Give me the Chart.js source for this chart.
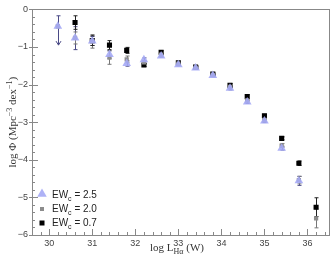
<!DOCTYPE html>
<html>
<head>
<meta charset="utf-8">
<script src="https://cdn.jsdelivr.net/npm/chart.js@4.4.0/dist/chart.umd.min.js"></script>
<style>
  html, body { margin: 0; padding: 0; background: #fff; }
  #wrap { width: 334px; height: 261px; position: relative; }
</style>
</head>
<body>
<div id="wrap"><canvas id="chart"></canvas></div>
<script>
const logL = [30.2, 30.6, 31.0, 31.4, 31.8, 32.2, 32.6, 33.0, 33.4, 33.8, 34.2, 34.6, 35.0, 35.4, 35.8, 36.2];

// EWc = 2.5 (triangles)
const phi25 = [-0.45, -0.76, -0.84, -1.20, -1.44, -1.34, -1.24, -1.47, -1.56, -1.76, -2.10, -2.46, -2.97, -3.69, -4.56, null];
const errHi25 = [0.28, 0.30, 0.12, 0.10, 0.07, 0.05, 0.03, 0.03, 0.03, 0.03, 0.04, 0.04, 0.04, 0.05, 0.12, 0];
const errLo25 = [0.50, 0.31, 0.12, 0.10, 0.07, 0.05, 0.03, 0.03, 0.03, 0.03, 0.04, 0.04, 0.04, 0.05, 0.12, 0];
const upperLimit25 = [true, false, false, false, false, false, false, false, false, false, false, false, false, false, false, false];

// EWc = 2.0 (grey squares)
const phi20 = [-0.45, -0.76, -0.85, -1.28, -1.33, -1.41, -1.20, -1.44, -1.55, -1.74, -2.06, -2.42, -2.94, -3.62, -4.54, -5.56];
const err20 = [0.0, 0.16, 0.18, 0.18, 0.09, 0.05, 0.04, 0.03, 0.03, 0.03, 0.04, 0.04, 0.04, 0.05, 0.10, 0.25];

// EWc = 0.7 (black squares)
const phi07 = [null, -0.35, -0.83, -0.95, -1.09, -1.48, -1.14, -1.42, -1.53, -1.72, -2.02, -2.32, -2.83, -3.43, -4.09, -5.26];
const err07 = [0, 0.18, 0.13, 0.12, 0.08, 0.04, 0.04, 0.03, 0.03, 0.03, 0.05, 0.05, 0.04, 0.04, 0.06, 0.25];

const seriesLabels = ['2.5', '2.0', '0.7'];
const xTicks = [30, 31, 32, 33, 34, 35, 36];
const yTicks = [-6, -5, -4, -3, -2, -1, 0];

const pts = (ys) => logL.map((x, i) => ({ x: x, y: ys[i] })).filter(p => p.y !== null);

const errorSets = [
  { ys: phi25, hi: errHi25, lo: errLo25, lim: upperLimit25, color: '#4a4a86' },
  { ys: phi20, hi: err20, lo: err20, lim: null, color: '#777' },
  { ys: phi07, hi: err07, lo: err07, lim: null, color: '#222' }
];

const sansFont = '"Liberation Sans", Arial, sans-serif';
const serifFont = '"Liberation Serif", "Times New Roman", serif';

const frame = {
  id: 'frame',
  beforeDatasetsDraw(chart) {
    const { ctx, scales: { x, y } } = chart;
    ctx.save();
    // error bars
    ctx.lineWidth = 1;
    errorSets.forEach(s => {
      ctx.strokeStyle = s.color;
      logL.forEach((lx, i) => {
        const v = s.ys[i];
        if (v === null) return;
        const px = Math.round(x.getPixelForValue(lx)) + 0.5;
        const top = y.getPixelForValue(v + s.hi[i]);
        const bot = y.getPixelForValue(v - s.lo[i]);
        if (top === bot) return;
        ctx.beginPath();
        ctx.moveTo(px, top); ctx.lineTo(px, bot);
        ctx.moveTo(px - 2, top); ctx.lineTo(px + 2, top);
        if (s.lim && s.lim[i]) {
          ctx.moveTo(px - 2.5, bot - 4); ctx.lineTo(px, bot); ctx.lineTo(px + 2.5, bot - 4);
        } else {
          ctx.moveTo(px - 2, bot); ctx.lineTo(px + 2, bot);
        }
        ctx.stroke();
      });
    });
    ctx.restore();
  },
  afterDraw(chart) {
    const { ctx, chartArea: a, scales: { x, y } } = chart;
    ctx.save();
    ctx.strokeStyle = '#888';
    ctx.lineWidth = 1;
    ctx.strokeRect(Math.round(a.left) + 0.5, Math.round(a.top) + 0.5, Math.round(a.right - a.left), Math.round(a.bottom - a.top));
    ctx.beginPath();
    // x ticks
    for (let k = 0; k <= 35; k++) {
      const v = 29.6 + k * 0.2;
      if (v > 36.5 + 1e-6) break;
      const major = Math.abs(v - Math.round(v)) < 1e-6;
      const px = Math.round(x.getPixelForValue(v)) + 0.5;
      const len = major ? 6 : 3;
      ctx.moveTo(px, a.bottom); ctx.lineTo(px, a.bottom - len);
    }
    // y ticks
    for (let k = 0; k <= 30; k++) {
      const v = -6 + k * 0.2;
      const major = Math.abs(v - Math.round(v)) < 1e-6;
      const py = Math.round(y.getPixelForValue(v)) + 0.5;
      if (major) { ctx.moveTo(a.left - 3, py); ctx.lineTo(a.left + 6, py); }
      else { ctx.moveTo(a.left, py); ctx.lineTo(a.left + 3, py); }
    }
    ctx.stroke();

    // axis titles
    ctx.fillStyle = '#333';
    ctx.textBaseline = 'alphabetic';
    const cx = 177;
    const parts = [
      { t: 'log L', f: '11px ' + serifFont, dy: 0 },
      { t: 'H\u03b1', f: '8px ' + serifFont, dy: 3 },
      { t: ' (W)', f: '11px ' + serifFont, dy: 0 }
    ];
    let w = 0;
    parts.forEach(p => { ctx.font = p.f; w += ctx.measureText(p.t).width; });
    let sx = cx - w / 2;
    const by = 251;
    parts.forEach(p => { ctx.font = p.f; ctx.fillText(p.t, sx, by + p.dy); sx += ctx.measureText(p.t).width; });

    ctx.save();
    ctx.translate(8, (a.top + a.bottom) / 2);
    ctx.rotate(-Math.PI / 2);
    const yparts = [
      { t: 'log \u03a6 (Mpc', f: '11px ' + serifFont, dy: 0 },
      { t: '\u22123', f: '8px ' + serifFont, dy: -4 },
      { t: ' dex', f: '11px ' + serifFont, dy: 0 },
      { t: '\u22121', f: '8px ' + serifFont, dy: -4 },
      { t: ')', f: '11px ' + serifFont, dy: 0 }
    ];
    w = 0;
    yparts.forEach(p => { ctx.font = p.f; w += ctx.measureText(p.t).width; });
    sx = -w / 2;
    yparts.forEach(p => { ctx.font = p.f; ctx.fillText(p.t, sx, 8 + p.dy); sx += ctx.measureText(p.t).width; });
    ctx.restore();

    // legend
    const rows = [194, 208, 222];
    const ds = chart.data.datasets;
    rows.forEach((ry, i) => {
      const d = ds[i];
      ctx.fillStyle = d.backgroundColor;
      const mx = 42;
      if (d.pointStyle === 'triangle') {
        const r = 5.5;
        ctx.beginPath();
        ctx.moveTo(mx - r * 0.866, ry + r / 2);
        ctx.lineTo(mx + r * 0.866, ry + r / 2);
        ctx.lineTo(mx, ry - r);
        ctx.closePath();
        ctx.fill();
      } else {
        const s = i === 1 ? 4 : 5;
        ctx.fillRect(mx - s / 2, ry - s / 2 + 1, s, s);
      }
      ctx.fillStyle = '#222';
      ctx.font = '10px ' + sansFont;
      let tx = 52;
      ctx.fillText('EW', tx, ry + 4);
      tx += ctx.measureText('EW').width;
      ctx.font = '7px ' + sansFont;
      ctx.fillText('c', tx, ry + 7);
      tx += ctx.measureText('c').width;
      ctx.font = '10px ' + sansFont;
      ctx.fillText(' = ' + seriesLabels[i], tx, ry + 4);
    });
    ctx.restore();
  }
};

new Chart(document.getElementById('chart'), {
  type: 'scatter',
  data: {
    datasets: [
      { label: 'EWc = 2.5', data: pts(phi25), pointStyle: 'triangle', radius: 5, backgroundColor: 'rgba(165,170,245,0.9)', borderWidth: 0 },
      { label: 'EWc = 2.0', data: pts(phi20), pointStyle: 'rect', radius: 3, backgroundColor: '#8c8c8c', borderWidth: 0 },
      { label: 'EWc = 0.7', data: pts(phi07), pointStyle: 'rect', radius: 3.6, backgroundColor: '#000', borderWidth: 0 }
    ]
  },
  options: {
    responsive: true,
    maintainAspectRatio: false,
    animation: false,
    layout: { padding: { top: 6, right: 4, left: 0, bottom: 0 } },
    plugins: { legend: { display: false }, tooltip: { enabled: false } },
    scales: {
      x: {
        type: 'linear', min: 29.6, max: 36.5,
        afterBuildTicks: s => { s.ticks = xTicks.map(v => ({ value: v })); },
        afterFit: s => { s.height = 26; },
        grid: { display: false, drawTicks: false },
        border: { display: false },
        ticks: { color: '#444', font: { family: sansFont, size: 9 }, padding: 3, maxRotation: 0 }
      },
      y: {
        type: 'linear', min: -6, max: 0,
        afterBuildTicks: s => { s.ticks = yTicks.map(v => ({ value: v })); },
        afterFit: s => { s.width = 32; },
        grid: { display: false, drawTicks: false },
        border: { display: false },
        ticks: { color: '#444', font: { family: sansFont, size: 9 }, padding: 4,
          callback: v => String(v).replace('-', '\u2212') }
      }
    }
  },
  plugins: [frame]
});
</script>
</body>
</html>
